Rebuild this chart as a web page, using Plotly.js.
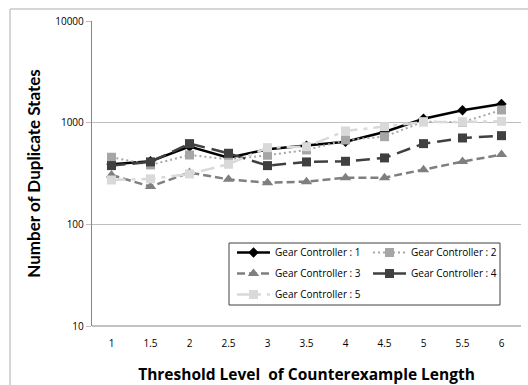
<!DOCTYPE html>
<html>
<head>
<meta charset="utf-8">
<script src="https://cdn.plot.ly/plotly-3.0.1.min.js"></script>
<style>
  html, body { margin: 0; padding: 0; background: #fff; }
  #chart { width: 528px; height: 385px; }
</style>
</head>
<body>
<div id="chart"></div>
<script>
// ---- data ----
const thresholds = ['1', '1.5', '2', '2.5', '3', '3.5', '4', '4.5', '5', '5.5', '6'];
const seriesNames = ['Gear Controller : 1', 'Gear Controller : 2', 'Gear Controller : 3', 'Gear Controller : 4', 'Gear Controller : 5'];
const gc1 = [390, 417, 581, 453, 547, 594, 650, 810, 1094, 1325, 1527];
const gc2 = [457, 384, 481, 436, 478, 539, 676, 728, 1023, 1010, 1333];
const gc3 = [306, 235, 323, 277, 257, 263, 288, 288, 345, 414, 485];
const gc4 = [378, 411, 622, 500, 378, 411, 417, 450, 622, 707, 745];
const gc5 = [273, 280, 313, 390, 568, 581, 828, 914, 1016, 1016, 1032];
const yTickVals = [10, 100, 1000, 10000];
const yTickText = ['10', '100', '1000', '10000'];

const FONT = '"Open Sans", "DejaVu Sans", sans-serif';
const VFONT = 'Lato, "Open Sans", sans-serif';

function tr(name, y, color, dash, width, symbol, msize, legend) {
  return {
    type: 'scatter', mode: 'lines+markers', name: name,
    x: thresholds, y: y,
    line: { color: color, dash: dash, width: width },
    marker: { symbol: symbol, size: msize, color: color, line: { width: 0 } },
    legend: legend, legendgroup: name
  };
}

const traces = [
  tr(seriesNames[0], gc1, '#000000', 'solid', 2.5, 'diamond', 8, 'legend'),
  tr(seriesNames[1], gc2, '#a6a6a6', '2px,3px', 2, 'square', 9, 'legend2'),
  tr(seriesNames[2], gc3, '#7f7f7f', '8px,4px', 2.5, 'triangle-up', 10, 'legend'),
  tr(seriesNames[3], gc4, '#404040', '14px,7px', 2.5, 'square', 9, 'legend2'),
  tr(seriesNames[4], gc5, '#d9d9d9', '14px,6px,4px,6px', 2.5, 'square', 9, 'legend')
];

const M = { l: 92, r: 7, t: 21, b: 59 };
const W = 528, H = 385;
const pw = W - M.l - M.r, ph = H - M.t - M.b;
const px = v => (v - M.l) / pw;
const py = v => 1 - (v - M.t) / ph;

const legendCommon = {
  xanchor: 'left', yanchor: 'top',
  bgcolor: 'rgba(0,0,0,0)', borderwidth: 0,
  font: { family: FONT, size: 10, color: '#000' },
  traceorder: 'grouped', tracegroupgap: 2, itemwidth: 33
};

const layout = {
  width: W, height: H,
  margin: M,
  paper_bgcolor: '#ffffff', plot_bgcolor: '#ffffff',
  font: { family: FONT, size: 10, color: '#000' },
  showlegend: true,
  xaxis: {
    type: 'category', range: [-0.5, 10.5],
    showgrid: false, zeroline: false,
    showline: false, ticks: '',
    ticklabelstandoff: 10,
    tickfont: { family: FONT, size: 10, color: '#000' },
    title: { text: 'Threshold Level  of Counterexample Length', font: { family: FONT, size: 15.5, color: '#000', weight: 'bold' }, standoff: 20 },
    automargin: false
  },
  yaxis: {
    type: 'log', range: [1, 4],
    tickvals: yTickVals, ticktext: yTickText,
    showgrid: true, gridcolor: '#bfbfbf', gridwidth: 1.2,
    showline: true, linecolor: '#868686', linewidth: 1.2,
    ticks: 'outside', ticklen: 5, tickcolor: '#bfbfbf',
    zeroline: false,
    tickfont: { family: FONT, size: 10, color: '#000' },
    title: { text: 'Number of Duplicate States', font: { family: VFONT, size: 17, color: '#000', weight: 'bold' }, standoff: 10 },
    automargin: false
  },
  legend: Object.assign({ x: px(232), y: py(238) }, legendCommon),
  legend2: Object.assign({ x: px(368), y: py(238) }, legendCommon),
  shapes: [
    { type: 'rect', xref: 'paper', yref: 'paper', layer: 'above',
      x0: px(229), x1: px(500), y0: py(305), y1: py(243),
      line: { color: '#404040', width: 1 }, fillcolor: 'rgba(0,0,0,0)' },
    { type: 'line', xref: 'paper', yref: 'paper', layer: 'above',
      x0: px(10), x1: px(540), y0: py(9), y1: py(9),
      line: { color: '#c8c8c8', width: 1.5 } },
    { type: 'line', xref: 'paper', yref: 'paper', layer: 'above',
      x0: px(10), x1: px(10), y0: py(9), y1: py(400),
      line: { color: '#c8c8c8', width: 1.5 } },
    { type: 'line', xref: 'paper', yref: 'paper', layer: 'below',
      x0: 0, x1: 1, y0: 0, y1: 0,
      line: { color: '#868686', width: 1.2 } }
  ]
};

Plotly.newPlot('chart', traces, layout, { staticPlot: true, displayModeBar: false });
</script>
</body>
</html>
